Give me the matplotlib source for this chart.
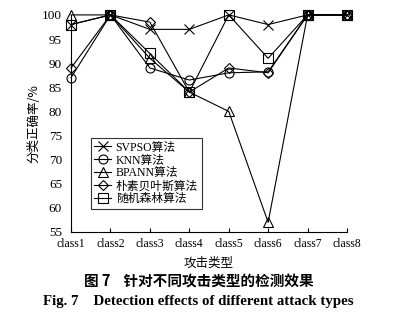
import matplotlib.pyplot as plt

plt.rcParams['font.family'] = ['Liberation Serif', 'Noto Sans CJK SC']

classes = ["class1", "class2", "class3", "class4", "class5", "class6", "class7", "class8"]
svpso = [98, 100, 97, 97, 100, 98, 100, 100]
knn = [87, 100, 89, 86.5, 88, 88.2, 100, 100]
bpann = [100, 100, 91, 84, 80, 57, 100, 100]
bayes = [89, 100, 98.5, 84, 89, 88, 100, 100]
forest = [98, 100, 92, 84, 100, 91, 100, 100]

names = ["SVPSO算法", "KNN算法", "BPANN算法", "朴素贝叶斯算法", "随机森林算法"]
markers = ["x", "o", "^", "D", "s"]
sizes = [6.5, 6.5, 6.5, 5, 6.5]

fig = plt.figure(figsize=(3.97, 3.24), dpi=100)
ax = fig.add_axes([0.179, 0.284, 0.695, 0.67])

x = list(range(len(classes)))
for vals, name, m, s in zip([svpso, knn, bpann, bayes, forest], names, markers, sizes):
    ax.plot(x, vals, color="black", lw=0.8, marker=m, markersize=s,
            markerfacecolor="none", markeredgecolor="black", markeredgewidth=0.8,
            label=name, clip_on=False)

ax.set_xlim(0, 7)
ax.set_ylim(55, 100)
ax.set_xticks(x)
ax.set_xticklabels(classes, fontsize=8.5)
ax.set_yticks(range(55, 101, 5))
ax.tick_params(axis="both", direction="in", length=3, width=0.8)
ax.tick_params(axis="y", length=0, pad=6.5, labelsize=9.5)
ax.tick_params(axis="x", pad=4, labelsize=8.5)
for side in ["top", "right"]:
    ax.spines[side].set_visible(False)
for side in ["left", "bottom"]:
    ax.spines[side].set_linewidth(0.8)

ax.set_xlabel("攻击类型", family=["Noto Sans CJK SC"], fontsize=9, labelpad=5)
ax.set_ylabel("分类正确率/%", family=["Noto Sans CJK SC"], fontsize=9, labelpad=1)

leg = ax.legend(loc="upper left", bbox_to_anchor=(0.072, 0.433), fontsize=8.5,
                frameon=True, fancybox=False, edgecolor="black",
                handlelength=1.4, handletextpad=0.4, labelspacing=0.08,
                borderpad=0.3, borderaxespad=0)
leg.get_frame().set_linewidth(0.8)

fig.text(0.5, 0.13, "图 7    针对不同攻击类型的检测效果", ha="center", va="center",
         family=["Noto Sans CJK SC"], fontsize=10.5, fontweight="bold")
fig.text(0.5, 0.068, "Fig. 7    Detection effects of different attack types", ha="center",
         va="center", family=["Liberation Serif"], fontsize=10.7, fontweight="bold")

fig.savefig("out.png", dpi=100)
